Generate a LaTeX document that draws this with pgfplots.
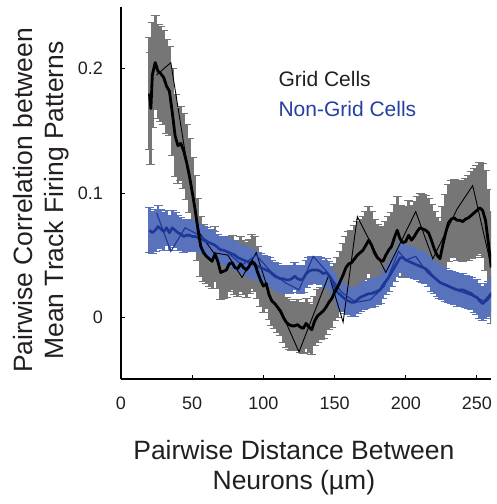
\documentclass[border=0pt]{standalone}
\usepackage{fontspec}
\setmainfont{Liberation Sans}
\usepackage{pgfplots}
\usepackage{pgfplotstable}
\pgfplotsset{compat=1.18}
\definecolor{txt}{RGB}{35,31,32}
\definecolor{graybar}{RGB}{118,118,118}
\definecolor{bluebar}{RGB}{88,114,188}
\definecolor{blueline}{RGB}{30,55,150}
\definecolor{bluetext}{RGB}{36,64,160}

\pgfplotstableread{
x y e
20 0.180 0.045
21 0.168 0.045
22 0.195 0.042
24 0.205 0.038
26 0.198 0.038
28 0.196 0.038
30 0.193 0.038
32 0.186 0.038
34 0.182 0.036
36 0.165 0.035
38 0.146 0.033
40 0.138 0.030
42 0.140 0.030
44 0.134 0.030
46 0.125 0.030
48 0.114 0.030
50 0.101 0.028
52 0.087 0.027
54 0.071 0.025
56 0.057 0.024
58 0.052 0.023
60 0.049 0.022
62 0.047 0.022
64 0.045 0.022
66 0.051 0.022
68 0.045 0.022
70 0.036 0.022
72 0.037 0.022
74 0.038 0.022
76 0.043 0.022
78 0.044 0.022
80 0.040 0.022
82 0.039 0.022
84 0.043 0.022
86 0.040 0.022
88 0.038 0.022
90 0.041 0.022
92 0.045 0.022
94 0.043 0.022
96 0.036 0.021
98 0.030 0.021
100 0.025 0.021
102 0.027 0.020
104 0.018 0.020
106 0.013 0.020
108 0.011 0.020
110 0.008 0.020
112 0.005 0.020
114 0.000 0.020
116 -0.004 0.020
118 -0.006 0.020
120 -0.007 0.020
122 -0.007 0.020
124 -0.006 0.020
126 -0.008 0.020
128 -0.009 0.020
130 -0.005 0.020
132 -0.008 0.020
134 -0.010 0.020
136 -0.003 0.020
138 0.001 0.021
140 0.003 0.021
142 0.005 0.022
144 0.008 0.022
146 0.012 0.022
148 0.015 0.023
150 0.020 0.023
152 0.024 0.024
154 0.029 0.024
156 0.034 0.025
158 0.040 0.025
160 0.043 0.026
162 0.044 0.026
164 0.047 0.027
166 0.050 0.027
168 0.052 0.027
170 0.054 0.027
172 0.058 0.027
174 0.062 0.027
176 0.058 0.027
178 0.052 0.027
180 0.048 0.027
182 0.046 0.027
184 0.045 0.027
186 0.050 0.027
188 0.054 0.027
190 0.057 0.027
192 0.064 0.027
194 0.070 0.027
196 0.063 0.027
198 0.060 0.028
200 0.061 0.028
202 0.066 0.028
204 0.062 0.028
206 0.065 0.028
208 0.069 0.028
210 0.072 0.028
212 0.071 0.028
214 0.070 0.028
216 0.068 0.028
218 0.062 0.029
220 0.055 0.030
222 0.050 0.030
224 0.047 0.030
226 0.058 0.031
228 0.068 0.031
230 0.076 0.031
232 0.079 0.031
234 0.080 0.031
236 0.078 0.032
238 0.078 0.032
240 0.077 0.032
242 0.079 0.033
244 0.080 0.034
246 0.082 0.035
248 0.084 0.036
250 0.086 0.036
252 0.088 0.037
254 0.086 0.038
256 0.078 0.040
258 0.060 0.043
260 0.040 0.045
}\gridtbl

\pgfplotstableread{
x y e
20 0.070 0.018
22 0.068 0.017
24 0.070 0.017
26 0.073 0.017
28 0.071 0.016
30 0.069 0.015
32 0.072 0.014
34 0.068 0.014
36 0.072 0.014
38 0.070 0.014
40 0.068 0.014
42 0.067 0.013
44 0.065 0.013
46 0.066 0.013
48 0.066 0.012
50 0.065 0.012
52 0.065 0.011
54 0.064 0.011
56 0.063 0.011
58 0.062 0.011
60 0.061 0.011
62 0.060 0.011
64 0.059 0.011
66 0.058 0.011
68 0.056 0.011
70 0.054 0.011
72 0.054 0.011
74 0.053 0.011
76 0.052 0.011
78 0.051 0.011
80 0.050 0.011
82 0.048 0.011
84 0.047 0.011
86 0.046 0.011
88 0.045 0.011
90 0.044 0.011
92 0.043 0.011
94 0.042 0.011
96 0.041 0.011
98 0.040 0.011
100 0.039 0.011
102 0.038 0.011
104 0.037 0.011
106 0.035 0.011
108 0.033 0.011
110 0.032 0.011
112 0.031 0.011
114 0.031 0.011
116 0.030 0.011
118 0.030 0.011
120 0.031 0.011
122 0.033 0.011
124 0.031 0.011
126 0.030 0.011
128 0.031 0.011
130 0.035 0.011
132 0.037 0.011
134 0.038 0.011
136 0.038 0.011
138 0.038 0.011
140 0.037 0.011
142 0.035 0.011
144 0.036 0.011
146 0.034 0.011
148 0.030 0.011
150 0.025 0.011
152 0.020 0.011
154 0.018 0.011
156 0.016 0.011
158 0.014 0.011
160 0.013 0.011
162 0.012 0.011
164 0.012 0.011
166 0.014 0.011
168 0.016 0.011
170 0.017 0.011
172 0.018 0.011
174 0.019 0.011
176 0.019 0.011
178 0.020 0.011
180 0.021 0.011
182 0.022 0.011
184 0.026 0.011
186 0.029 0.011
188 0.032 0.011
190 0.036 0.011
192 0.040 0.011
194 0.044 0.011
196 0.048 0.011
198 0.048 0.012
200 0.046 0.012
202 0.045 0.012
204 0.044 0.012
206 0.043 0.012
208 0.042 0.012
210 0.041 0.012
212 0.040 0.012
214 0.039 0.012
216 0.037 0.012
218 0.034 0.013
220 0.032 0.013
222 0.030 0.013
224 0.028 0.013
226 0.027 0.013
228 0.026 0.013
230 0.025 0.013
232 0.024 0.013
234 0.023 0.013
236 0.022 0.013
238 0.022 0.013
240 0.022 0.013
242 0.021 0.013
244 0.020 0.013
246 0.019 0.013
248 0.017 0.013
250 0.016 0.014
252 0.013 0.014
254 0.011 0.014
256 0.013 0.014
258 0.015 0.014
260 0.019 0.014
}\bluetbl

\begin{document}
\begin{tikzpicture}
\useasboundingbox (0,0) rectangle (496pt,504pt);
\begin{axis}[
  at={(121pt,124.7pt)}, anchor=south west,
  scale only axis, width=370.2pt, height=372.6pt,
  xmin=0, xmax=260, ymin=-0.05, ymax=0.25,
  axis x line*=bottom, axis y line*=left,
  axis line style={-, line width=1.6pt, black},
  tick align=inside, major tick length=4pt,
  tick style={line width=1pt, black},
  xtick={0,50,100,150,200,250},
  xticklabels={0,50,100,150,200,250},
  ytick={0,0.1,0.2},
  yticklabels={0,0.1,0.2},
  ticklabel style={font=\fontsize{18}{20}\selectfont, text=txt, inner sep=0pt},
  xticklabel style={yshift=-17pt},
  yticklabel style={xshift=-18pt},
  xlabel={Pairwise Distance Between\\Neurons (µm)},
  xlabel style={at={(axis description cs:0.467,0)}, anchor=north, yshift=-60.5pt,
    align=center, inner sep=0pt, font=\fontsize{26.5}{30.7}\selectfont, text=txt},
  ylabel={Pairwise Correlation between\\Mean Track Firing Patterns},
  ylabel style={at={(axis description cs:-0.291,0.48)}, anchor=north, rotate=0,
    align=center, inner sep=0pt, font=\fontsize{26.5}{30.7}\selectfont, text=txt},
]
% grid cells error bars
\addplot[draw=none, mark=none, forget plot,
  error bars/.cd, y dir=both, y explicit,
  error bar style={graybar, line width=2.9pt},
  error mark options={graybar, line width=0.9pt, mark size=4.5pt, rotate=90}]
  table[x=x, y=y, y error=e] {\gridtbl};
% non-grid error bars
\addplot[draw=none, mark=none, forget plot,
  error bars/.cd, y dir=both, y explicit,
  error bar style={bluebar, line width=2.9pt},
  error mark options={bluebar, line width=0.9pt, mark size=4.5pt, rotate=90}]
  table[x=x, y=y, y error=e] {\bluetbl};
% thin lines (coarse bins)
\addplot[black, line width=0.9pt, mark=none] coordinates {
(25,0.195) (35,0.205) (45,0.133) (55,0.068) (65,0.052) (75,0.050) (85,0.032)
(95,0.052) (105,0.016) (115,-0.002) (125,-0.028) (146,0.034) (156,-0.004)
(166,0.081) (186,0.036) (207,0.085) (219,0.047) (236,0.087) (247,0.106) (260,0.041)};
\addplot[blueline, line width=1.1pt, mark=none] coordinates {
(25,0.084) (35,0.053) (45,0.072) (55,0.066) (65,0.058) (75,0.052) (85,0.042)
(95,0.050) (105,0.037) (115,0.028) (125,0.022) (135,0.049) (145,0.036) (155,0.020)
(165,0.012) (175,0.014) (185,0.025) (195,0.053) (200,0.046) (207,0.049) (215,0.036)
(225,0.027) (235,0.022) (245,0.018) (255,0.013) (260,0.020)};
% thick smoothed lines
\addplot[blueline, line width=2.6pt, mark=none, line join=round] table[x=x, y=y] {\bluetbl};
\addplot[black, line width=2.8pt, mark=none, line join=round] table[x=x, y=y] {\gridtbl};
% legend text
\node[anchor=base west, inner sep=0pt, font=\fontsize{21}{24}\selectfont, text=txt]
  at (axis cs:110.5,0.1855) {Grid Cells};
\node[anchor=base west, inner sep=0pt, font=\fontsize{21}{24}\selectfont, text=bluetext]
  at (axis cs:110.5,0.1618) {Non-Grid Cells};
\end{axis}
\end{tikzpicture}
\end{document}
